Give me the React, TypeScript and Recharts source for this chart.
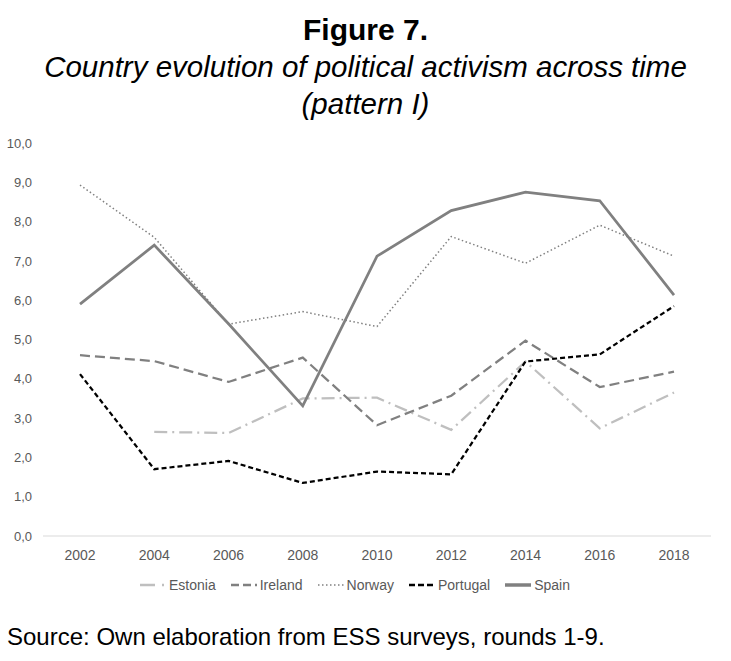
import React from 'react';
import { LineChart, Line, XAxis, YAxis, Legend } from 'recharts';

const years = ['2002', '2004', '2006', '2008', '2010', '2012', '2014', '2016', '2018'];
const estonia = [null, 2.65, 2.62, 3.5, 3.52, 2.7, 4.44, 2.74, 3.65];
const ireland = [4.6, 4.45, 3.92, 4.54, 2.82, 3.57, 4.97, 3.79, 4.18];
const norway = [8.93, 7.6, 5.39, 5.71, 5.33, 7.62, 6.94, 7.91, 7.12];
const portugal = [4.12, 1.7, 1.91, 1.35, 1.64, 1.57, 4.44, 4.62, 5.85];
const spain = [5.9, 7.4, 5.4, 3.31, 7.12, 8.28, 8.75, 8.53, 6.13];
const yTicks = [0, 1, 2, 3, 4, 5, 6, 7, 8, 9, 10];

const seriesNames = ['Estonia', 'Ireland', 'Norway', 'Portugal', 'Spain'];
const seriesValues = [estonia, ireland, norway, portugal, spain];

const styles: Record<string, { color: string; width: number; dash?: string; iconDash?: string }> = {
  Estonia: { color: '#bfbfbf', width: 2.25, dash: '13 5 2 5', iconDash: '15 7 2 5' },
  Ireland: { color: '#808080', width: 2.25, dash: '10 5', iconDash: '8 4' },
  Norway: { color: '#808080', width: 1.5, dash: '1.5 2.5', iconDash: '1.5 2.5' },
  Portugal: { color: '#000000', width: 2.25, dash: '5 3', iconDash: '6 3' },
  Spain: { color: '#808080', width: 2.75 },
};

const data = years.map((year, i) => {
  const row: Record<string, any> = { year };
  seriesNames.forEach((name, k) => {
    row[name] = seriesValues[k][i];
  });
  return row;
});

const FONT = '"Liberation Sans", Arial, sans-serif';

const fmt = (v: number) => v.toFixed(1).replace('.', ',');

const LegendContent = () => (
  <div
    style={{
      width: 731,
      height: 30,
      boxSizing: 'border-box',
      paddingTop: 8,
      paddingRight: 6,
      display: 'flex',
      justifyContent: 'center',
      alignItems: 'center',
      fontFamily: FONT,
      fontSize: 14,
      color: '#595959',
    }}
  >
    {seriesNames.map((name) => {
      const s = styles[name];
      return (
        <div key={name} style={{ display: 'flex', alignItems: 'center', marginRight: 15, height: 22 }}>
          <svg width={26} height={10} style={{ marginRight: 3 }}>
            <line
              x1={0}
              y1={5}
              x2={26}
              y2={5}
              stroke={s.color}
              strokeWidth={name === 'Spain' ? 3.5 : name === 'Norway' ? 1.5 : 2.5}
              strokeDasharray={s.iconDash}
            />
          </svg>
          <span>{name}</span>
        </div>
      );
    })}
  </div>
);

export default function App() {
  return (
    <div
      style={{
        position: 'absolute',
        left: 0,
        top: 0,
        width: 731,
        height: 661,
        background: '#ffffff',
        fontFamily: FONT,
        color: '#000',
      }}
    >
      <div
        style={{
          position: 'absolute',
          top: 12,
          left: 0,
          width: 731,
          textAlign: 'center',
          fontWeight: 'bold',
          fontSize: 30,
          lineHeight: '36px',
        }}
      >
        Figure 7.
      </div>
      <div
        style={{
          position: 'absolute',
          top: 48,
          left: 0,
          width: 731,
          textAlign: 'center',
          fontStyle: 'italic',
          fontSize: 29.5,
          lineHeight: '37px',
        }}
      >
        Country evolution of political activism across time
        <br />
        (pattern I)
      </div>
      <div style={{ position: 'absolute', top: 0, left: 0 }}>
        <LineChart width={731} height={610} data={data} margin={{ top: 143, right: 20, left: 0, bottom: 14 }}>
          <XAxis
            dataKey="year"
            axisLine={{ stroke: '#d9d9d9', strokeWidth: 1 }}
            tickLine={false}
            tick={{ fill: '#595959', fontSize: 14, fontFamily: FONT }}
            tickMargin={8}
            height={30}
            interval={0}
            padding={{ left: 37, right: 37 }}
          />
          <YAxis
            domain={[0, 10]}
            ticks={yTicks}
            interval={0}
            axisLine={false}
            tickLine={false}
            tick={{ fill: '#595959', fontSize: 13, fontFamily: FONT }}
            tickFormatter={fmt}
            tickMargin={5}
            width={43}
          />
          <Legend
            verticalAlign="bottom"
            content={<LegendContent />}
            wrapperStyle={{ left: 0, width: 731, height: 30 }}
          />
          {seriesNames.map((name) => {
            const s = styles[name];
            return (
              <Line
                key={name}
                type="linear"
                dataKey={name}
                stroke={s.color}
                strokeWidth={s.width}
                strokeDasharray={s.dash}
                dot={false}
                activeDot={false}
                connectNulls={false}
                isAnimationActive={false}
              />
            );
          })}
        </LineChart>
      </div>
      <div
        style={{
          position: 'absolute',
          top: 625,
          left: 7,
          fontSize: 24,
          lineHeight: '24px',
          whiteSpace: 'nowrap',
        }}
      >
        Source: Own elaboration from ESS surveys, rounds 1-9.
      </div>
    </div>
  );
}
